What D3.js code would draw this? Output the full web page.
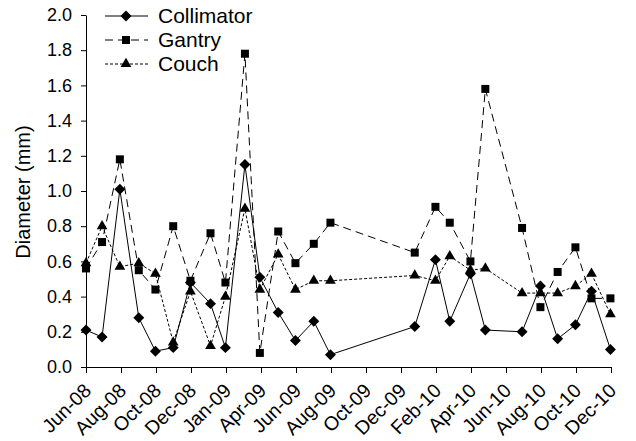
<!DOCTYPE html>
<html><head><meta charset="utf-8">
<script src="https://cdn.jsdelivr.net/npm/d3@7"></script>
<style>body{margin:0;background:#fff}svg{display:block}text{font-family:Arial,"Liberation Sans",sans-serif;fill:#000}</style>
</head><body><svg id="c" width="636" height="441"></svg>
<script>
const dates = ["2008-06-01","2008-06-29","2008-07-30","2008-09-01","2008-09-30","2008-10-31","2008-11-30","2009-01-04","2009-01-30","2009-03-05","2009-03-31","2009-05-02","2009-06-01","2009-07-03","2009-08-01","2009-12-26","2010-01-31","2010-02-25","2010-04-02","2010-04-28","2010-07-01","2010-08-02","2010-09-01","2010-10-02","2010-10-30","2010-12-02"];
const collimator = [0.21,0.17,1.01,0.28,0.09,0.11,0.48,0.36,0.11,1.15,0.51,0.31,0.15,0.26,0.07,0.23,0.61,0.26,0.53,0.21,0.20,0.46,0.16,0.24,0.43,0.10];
const gantry = [0.56,0.71,1.18,0.55,0.44,0.80,0.49,0.76,0.48,1.78,0.08,0.77,0.59,0.70,0.82,0.65,0.91,0.82,0.60,1.58,0.79,0.34,0.54,0.68,0.39,0.39];
const couch = [0.59,0.80,0.57,0.59,0.53,0.14,0.43,0.12,0.40,0.90,0.44,0.64,0.44,0.49,0.49,0.52,0.49,0.63,0.55,0.56,0.42,0.42,0.42,0.46,0.53,0.30];
const tickDates = ["2008-06-01","2008-08-01","2008-10-01","2008-12-01","2009-01-31","2009-04-02","2009-06-02","2009-08-02","2009-10-02","2009-12-02","2010-02-01","2010-04-03","2010-06-03","2010-08-03","2010-10-03","2010-12-03"];
const tickLabels = ["Jun-08","Aug-08","Oct-08","Dec-08","Jan-09","Apr-09","Jun-09","Aug-09","Oct-09","Dec-09","Feb-10","Apr-10","Jun-10","Aug-10","Oct-10","Dec-10"];
const yTicks = [0,0.2,0.4,0.6,0.8,1.0,1.2,1.4,1.6,1.8,2.0];

const parse = d3.utcParse("%Y-%m-%d");
const svg = d3.select("#c");
const x = d3.scaleUtc().domain([parse(tickDates[0]), parse(tickDates[tickDates.length-1])]).range([86, 611]);
const y = d3.scaleLinear().domain([0, 2]).range([367, 15]);

const series = [
  {name:"Collimator", values:collimator, dash:null, sym:d3.symbolSquare, size:60, rot:45},
  {name:"Gantry", values:gantry, dash:"8,5", sym:d3.symbolSquare, size:64, rot:0},
  {name:"Couch", values:couch, dash:"3,2", sym:d3.symbolTriangle, size:50, rot:0}
];

// axes
const yAxis = svg.append("g").attr("transform","translate(86,0)")
  .call(d3.axisLeft(y).tickValues(yTicks).tickFormat(d3.format(".1f")).tickSize(5).tickSizeOuter(0).tickPadding(9));
yAxis.selectAll("text").style("font-size","18px");
const xAxis = svg.append("g").attr("transform","translate(0,367)")
  .call(d3.axisBottom(x).tickValues(tickDates.map(parse)).tickFormat((d,i)=>tickLabels[i]).tickSize(6).tickSizeOuter(0));
xAxis.selectAll("text").style("font-size","19.5px").attr("text-anchor","end")
  .attr("transform","translate(1,20) rotate(-45)").attr("dy","0.35em").attr("y",0).attr("x",0);
svg.selectAll(".domain, .tick line").attr("stroke","#000").attr("stroke-width",1);

svg.append("text").attr("transform","translate(30,192) rotate(-90)").attr("text-anchor","middle")
  .style("font-size","20px").text("Diameter (mm)");

const g = svg.append("g");
series.forEach(s => {
  const pts = dates.map((d,i)=>[x(parse(d)), y(s.values[i])]);
  g.append("path").attr("d", d3.line()(pts)).attr("fill","none").attr("stroke","#000")
    .attr("stroke-width",1).attr("stroke-dasharray", s.dash);
  g.selectAll(null).data(pts).join("path")
    .attr("transform", p=>`translate(${p[0]},${p[1]}) rotate(${s.rot})`)
    .attr("d", d3.symbol(s.sym, s.size)).attr("fill","#000");
});

// legend
const leg = svg.append("g");
series.forEach((s,i)=>{
  const ly = 16 + i*24;
  leg.append("line").attr("x1",105).attr("x2",148).attr("y1",ly).attr("y2",ly)
    .attr("stroke","#000").attr("stroke-dasharray", s.dash);
  leg.append("path").attr("transform",`translate(126,${ly}) rotate(${s.rot})`).attr("d", d3.symbol(s.sym, s.size)).attr("fill","#000");
  leg.append("text").attr("x",158).attr("y",ly).attr("dy","0.35em").style("font-size","21px").text(s.name);
});
</script></body></html>
